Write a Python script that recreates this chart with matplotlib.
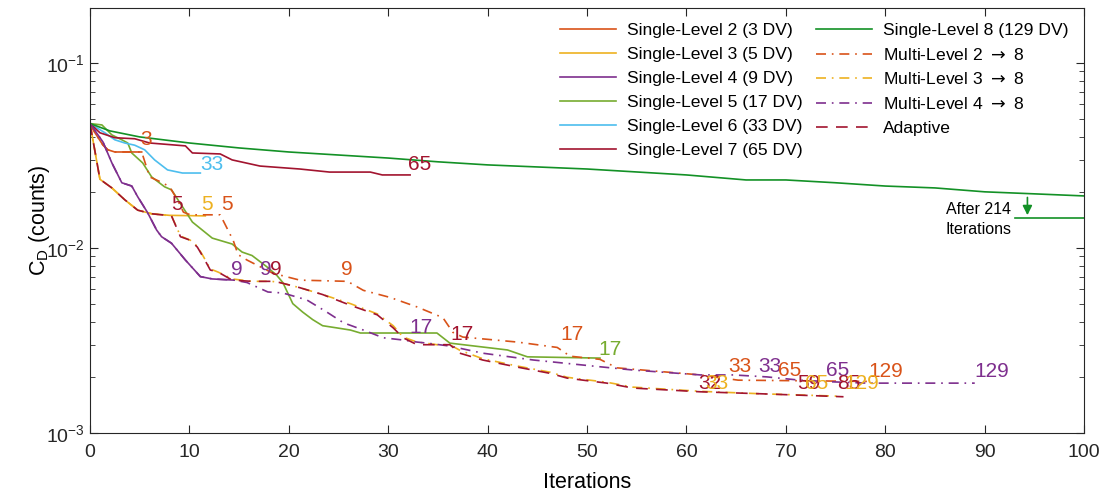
import numpy as np
import matplotlib.pyplot as plt
from matplotlib.ticker import LogLocator, NullFormatter

plt.rcParams['font.family'] = ['Liberation Sans', 'DejaVu Sans']

# colours (MATLAB-like)
c_sl2 = '#D95319'
c_sl3 = '#EDB120'
c_sl4 = '#7E2F8E'
c_sl5 = '#77AC30'
c_sl6 = '#4DBEEE'
c_sl7 = '#A2142F'
c_sl8 = '#139126'

# === single-level runs ===
sl2_x = [0, 0.5, 1.3, 1.8, 2.5, 5.2]
sl2_y = [0.047, 0.0419, 0.0360, 0.0339, 0.0330, 0.0330]

sl3_x = [0, 1.0, 2.2, 3.5, 4.8, 6.2, 8.0, 11.6]
sl3_y = [0.047, 0.0235, 0.0211, 0.0182, 0.0160, 0.0153, 0.0150, 0.0149]

sl4_x = [0, 1.3, 2.2, 3.2, 4.2, 4.8, 5.8, 6.7, 7.2, 8.2, 9.6, 11.1, 12.3, 14.5]
sl4_y = [0.047, 0.0374, 0.0288, 0.0225, 0.0216, 0.0189, 0.0155, 0.0125,
         0.0115, 0.0106, 0.0086, 0.0070, 0.0068, 0.0067]

sl5_x = [0, 1.2, 2.2, 3.2, 3.8, 4.2, 5.3, 6.2, 7.5, 8.2, 9.3, 10.3, 12.3, 14.3,
         15.3, 16.3, 17.8, 18.8, 19.4, 20.4, 21.4, 22.4, 23.4, 24.8, 26.2, 27.2,
         34.9, 36.2, 42.0, 44.0, 51.3]
sl5_y = [0.047, 0.0462, 0.0408, 0.0384, 0.0369, 0.0326, 0.0288, 0.0242, 0.0214,
         0.0206, 0.0167, 0.0138, 0.0113, 0.0105, 0.0095, 0.0091, 0.0079, 0.0071,
         0.0065, 0.0050, 0.0045, 0.0041, 0.0038, 0.0037, 0.0036, 0.00347,
         0.00347, 0.00306, 0.00281, 0.00258, 0.00254]

sl6_x = [0, 1.5, 2.5, 3.5, 4.5, 5.5, 6.5, 7.8, 9.3, 11.1]
sl6_y = [0.047, 0.0419, 0.0384, 0.0369, 0.0359, 0.0339, 0.0299, 0.0264, 0.0254, 0.0254]

sl7_x = [0, 1.0, 2.5, 4.5, 6.0, 9.6, 10.3, 13.1, 14.3, 17.1, 21.1, 24.1, 28.2, 29.4, 32.2]
sl7_y = [0.047, 0.0419, 0.0394, 0.0389, 0.0369, 0.0356, 0.0326, 0.0322, 0.0299,
         0.0277, 0.0267, 0.0257, 0.0257, 0.0248, 0.0248]

sl8_x = [0, 2, 5, 10, 15, 20, 30, 35, 40, 50, 60, 66, 70, 75, 80, 85, 90, 95, 100]
sl8_y = [0.047, 0.0429, 0.0398, 0.0369, 0.0347, 0.0330, 0.0306, 0.0292, 0.0281,
         0.0267, 0.0248, 0.0233, 0.0233, 0.0225, 0.0216, 0.0211, 0.0201, 0.0196, 0.0191]

# === multi-level runs ===
ml2_x = sl2_x + [6.0, 7.3, 8.0, 8.8, 9.4, 10.1, 13.1, 14.4, 14.9, 15.8, 18.4, 21.1,
                 25.9, 27.5, 30.2, 32.9, 35.5, 36.5, 37.5, 43.0, 47.0, 48.3, 51.3,
                 53.0, 61.4, 65.2, 69.7, 78.3]
ml2_y = sl2_y + [0.0242, 0.0225, 0.0214, 0.0182, 0.0156, 0.0151, 0.0151, 0.0110,
                 0.0092, 0.0086, 0.0073, 0.0067, 0.0066, 0.0059, 0.0054, 0.0048,
                 0.0042, 0.0035, 0.0033, 0.0031, 0.0029, 0.0026, 0.0025, 0.00225,
                 0.00206, 0.00193, 0.00192, 0.00190]

ad_x = [0, 1.0, 2.2, 3.5, 4.8, 6.2, 8.2, 9.1, 10.1, 10.8, 11.4, 12.1, 12.9, 14.3,
        16.3, 18.3, 19.1, 21.1, 23.4, 26.2, 28.9, 30.5, 31.5, 32.9, 34.9, 36.2,
        37.2, 39.5, 43.0, 46.3, 48.0, 49.6, 52.0, 54.6, 61.4, 67.4, 75.8]
ad_y = [0.047, 0.0235, 0.0211, 0.0182, 0.0160, 0.0153, 0.0149, 0.0115, 0.0110,
        0.0101, 0.0089, 0.0076, 0.0074, 0.0067, 0.0066, 0.0066, 0.0065, 0.0061,
        0.0056, 0.0049, 0.00435, 0.0037, 0.00327, 0.0030, 0.0030, 0.0030, 0.0027,
        0.00248, 0.00227, 0.0021, 0.00198, 0.00193, 0.00186, 0.00175, 0.00167,
        0.00163, 0.00157]

ml3_x = [0, 1.0, 2.2, 3.5, 4.8, 6.2, 8.2, 9.1, 10.1, 10.8, 11.4, 12.1, 12.9, 14.3,
         16.3, 18.3, 19.1, 21.1, 23.4, 26.2, 28.9, 30.5, 31.5, 32.9, 34.9, 36.2,
         37.2, 39.5, 43.0, 46.3, 48.0, 49.6, 52.0, 54.6, 61.4, 67.4, 75.5]
ml3_y = [0.047, 0.0235, 0.0211, 0.0182, 0.0160, 0.0153, 0.0149, 0.0116, 0.0110,
         0.0102, 0.0090, 0.0077, 0.0074, 0.0068, 0.0066, 0.0066, 0.0065, 0.0061,
         0.0056, 0.0050, 0.0044, 0.0038, 0.0033, 0.0031, 0.0030, 0.0030, 0.0028,
         0.00252, 0.0023, 0.00213, 0.0020, 0.00195, 0.00188, 0.00177, 0.00168,
         0.00163, 0.00158]

ml4_x = sl4_x + [15.8, 17.9, 19.4, 21.8, 23.8, 25.5, 27.5, 29.5, 31.5, 32.9, 33.9,
                 36.2, 39.5, 44.6, 51.3, 54.6, 61.4, 64.7, 68.1, 71.4, 74.7, 78.2, 89.0]
ml4_y = sl4_y + [0.0065, 0.00578, 0.00571, 0.00524, 0.00451, 0.00394, 0.0036,
                 0.00327, 0.00318, 0.0031, 0.00306, 0.00295, 0.0027, 0.00248,
                 0.00228, 0.00219, 0.00206, 0.00206, 0.00201, 0.00193, 0.00189,
                 0.00186, 0.00186]

# design-variable labels: (text, x, y, colour)
labels = [
    ('3', 5.1, 0.0384, c_sl2), ('33', 11.1, 0.0281, c_sl6), ('65', 32.0, 0.0281, c_sl7),
    ('5', 8.15, 0.0171, c_sl7), ('5', 11.2, 0.0171, c_sl3), ('5', 13.2, 0.0171, c_sl2),
    ('9', 14.2, 0.0076, c_sl4), ('9', 17.1, 0.0076, c_sl4), ('9', 18.1, 0.0076, c_sl7),
    ('9', 25.2, 0.0076, c_sl2),
    ('17', 32.1, 0.0037, c_sl4), ('17', 36.3, 0.00339, c_sl7), ('17', 47.3, 0.00339, c_sl2),
    ('17', 51.1, 0.00281, c_sl5),
    ('33', 64.2, 0.0023, c_sl2), ('33', 67.2, 0.0023, c_sl4), ('65', 69.2, 0.00219, c_sl2),
    ('65', 74.0, 0.00219, c_sl4), ('129', 78.3, 0.00214, c_sl2), ('129', 89.0, 0.00214, c_sl4),
    ('32', 61.2, 0.00186, c_sl7), ('33', 61.9, 0.00186, c_sl3),
    ('59', 71.1, 0.00186, c_sl7), ('65', 71.9, 0.00186, c_sl3),
    ('85', 75.2, 0.00186, c_sl7), ('129', 75.9, 0.00186, c_sl3),
]

dashdot = (0, (6, 3.5, 1, 3.5))
dashed = (0, (7, 5))

fig = plt.figure(figsize=(11.07, 4.98), dpi=100)
ax = fig.add_axes([0.0813, 0.1305, 0.8980, 0.8535])

lw = 1.2
ax.plot(sl2_x, sl2_y, color=c_sl2, lw=lw, label='Single-Level 2 (3 DV)')
ax.plot(sl3_x, sl3_y, color=c_sl3, lw=lw, label='Single-Level 3 (5 DV)')
ax.plot(sl4_x, sl4_y, color=c_sl4, lw=lw, label='Single-Level 4 (9 DV)')
ax.plot(sl5_x, sl5_y, color=c_sl5, lw=lw, label='Single-Level 5 (17 DV)')
ax.plot(sl6_x, sl6_y, color=c_sl6, lw=lw, label='Single-Level 6 (33 DV)')
ax.plot(sl7_x, sl7_y, color=c_sl7, lw=lw, label='Single-Level 7 (65 DV)')
ax.plot(sl8_x, sl8_y, color=c_sl8, lw=lw, label='Single-Level 8 (129 DV)')
ax.plot(ml2_x, ml2_y, color=c_sl2, lw=lw, ls=dashdot, label=r'Multi-Level 2 $\rightarrow$ 8')
ax.plot(ml3_x, ml3_y, color=c_sl3, lw=lw, ls=dashdot, label=r'Multi-Level 3 $\rightarrow$ 8')
ax.plot(ml4_x, ml4_y, color=c_sl4, lw=lw, ls=dashdot, label=r'Multi-Level 4 $\rightarrow$ 8')
ax.plot(ad_x, ad_y, color=c_sl7, lw=lw, ls=dashed, label='Adaptive')

for txt, x, y, c in labels:
    ax.text(x, y, txt, color=c, fontsize=15, ha='left', va='center')

# final value of the single-level 8 run
ax.plot([93.1, 100], [0.01452, 0.01452], color=c_sl8, lw=lw, clip_on=False)
ax.annotate('', xy=(94.3, 0.01452), xytext=(94.3, 0.0194),
            arrowprops=dict(arrowstyle='-|>', color=c_sl8, lw=1.2, mutation_scale=14))
ax.text(86.1, 0.0142, 'After 214\nIterations', fontsize=11.5, ha='left', va='center',
        linespacing=1.45)

ax.set_yscale('log')
ax.set_xlim(0, 100)
ax.set_ylim(1e-3, 0.198)
ax.set_xticks(np.arange(0, 101, 10))
ax.yaxis.set_major_locator(LogLocator(base=10, numticks=10))
ax.yaxis.set_minor_locator(LogLocator(base=10, subs=np.arange(2, 10), numticks=10))
ax.yaxis.set_minor_formatter(NullFormatter())
ax.tick_params(which='both', direction='in', top=True, right=True, colors='#262626',
               labelsize=14)
ax.tick_params(which='major', length=6)
ax.tick_params(which='minor', length=3.5)
ax.tick_params(axis='x', pad=8)
for s in ax.spines.values():
    s.set_color('#262626')

ax.set_xlabel('Iterations', fontsize=15.5, labelpad=8)
ax.set_ylabel(r'C$_\mathregular{D}$ (counts)', fontsize=15.5, labelpad=-4)

ax.legend(ncol=2, loc='upper right', bbox_to_anchor=(0.995, 0.99), frameon=False,
          fontsize=12.6, handlelength=3.2, handletextpad=0.6, columnspacing=0.8,
          labelspacing=0.5, borderaxespad=0.2)

fig.savefig('out.png', dpi=100)
